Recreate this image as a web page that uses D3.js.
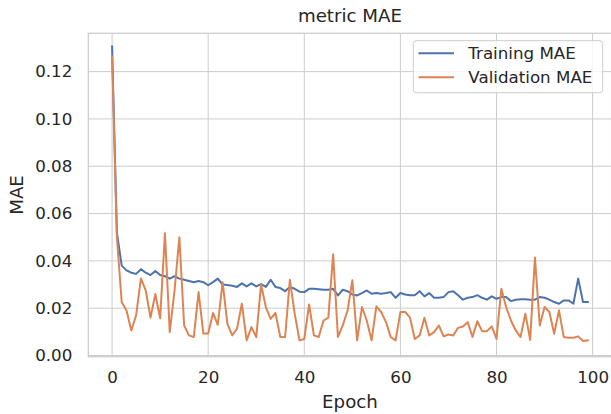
<!DOCTYPE html>
<html><head><meta charset="utf-8">
<script src="https://cdn.jsdelivr.net/npm/d3@7"></script>
<style>html,body{margin:0;padding:0;background:#fff;}svg{display:block;}</style>
</head><body>
<svg id="c" width="611" height="414"></svg>
<script>
const trainMAE = [0.1306,0.052,0.038,0.036,0.035,0.0345,0.0365,0.035,0.034,0.0357,
0.034,0.0335,0.0325,0.0335,0.0325,0.032,0.0315,0.031,0.0315,0.031,
0.0297,0.031,0.0325,0.030,0.0298,0.0295,0.029,0.0305,0.0292,0.0305,
0.0292,0.0302,0.029,0.032,0.029,0.0285,0.0272,0.029,0.0282,0.027,
0.0268,0.0282,0.0282,0.028,0.0278,0.0278,0.0282,0.0254,0.0278,0.0272,
0.0258,0.0254,0.0264,0.0275,0.0261,0.0264,0.0261,0.0264,0.0268,0.0244,
0.0264,0.0258,0.0255,0.0255,0.0272,0.025,0.0264,0.0244,0.0244,0.0247,
0.0268,0.0272,0.0255,0.0236,0.0244,0.0247,0.0255,0.0244,0.0236,0.025,
0.024,0.0247,0.0247,0.023,0.0236,0.0238,0.0238,0.0236,0.0236,0.0247,
0.0244,0.0236,0.0226,0.0219,0.0233,0.0233,0.0219,0.0325,0.0226,0.0226];
const valMAE = [0.1264,0.050,0.0226,0.019,0.0106,0.017,0.0326,0.0275,0.016,0.026,
0.0157,0.0517,0.0099,0.0275,0.050,0.0127,0.0085,0.0078,0.0268,0.0093,
0.0093,0.018,0.013,0.031,0.0134,0.0085,0.0113,0.0219,0.0064,0.012,
0.0078,0.030,0.0205,0.0155,0.018,0.0078,0.0078,0.032,0.0177,0.0064,
0.007,0.0216,0.0085,0.0078,0.0148,0.016,0.0428,0.0078,0.0127,0.019,
0.0318,0.0064,0.0205,0.0148,0.0064,0.0208,0.0184,0.0141,0.0078,0.0064,
0.0184,0.0184,0.016,0.007,0.0085,0.016,0.0085,0.0099,0.0127,0.0081,
0.0089,0.0085,0.0117,0.0123,0.0141,0.0078,0.0145,0.0103,0.0103,0.0123,
0.007,0.0282,0.0205,0.0148,0.0106,0.0078,0.0177,0.0066,0.0414,0.0127,
0.0205,0.0184,0.0092,0.0191,0.0078,0.0075,0.0075,0.0081,0.0061,0.0064];
const xTicks = [0,20,40,60,80,100];
const yTicks = [0.00,0.02,0.04,0.06,0.08,0.10,0.12];
const seriesNames = ["Training MAE","Validation MAE"];
const colors = ["#4c72b0","#dd8452"];

const svg = d3.select("#c");
const L=88.3, R=611.6, T=33.3, B=356.7;
const x = d3.scaleLinear().domain([-4.95,103.95]).range([L,R]);
const y = d3.scaleLinear().domain([-0.0005,0.1362]).range([B,T]);
const font = "DejaVu Sans, sans-serif";
const txt = "#262626";
const grid = "#cccccc";
const tickFS = 16.7, labFS = 18.2;

const g = svg.append("g");
g.selectAll(".gx").data(xTicks).enter().append("line")
 .attr("x1",d=>x(d)).attr("x2",d=>x(d)).attr("y1",T).attr("y2",B)
 .attr("stroke",grid).attr("stroke-width",1);
g.selectAll(".gy").data(yTicks).enter().append("line")
 .attr("x1",L).attr("x2",R).attr("y1",d=>y(d)).attr("y2",d=>y(d))
 .attr("stroke",grid).attr("stroke-width",1);
g.append("rect").attr("x",L).attr("y",T).attr("width",R-L).attr("height",B-T)
 .attr("fill","none").attr("stroke",grid).attr("stroke-width",1.25);

const xAxis = d3.axisBottom(x).tickValues(xTicks).tickSize(0).tickPadding(14).tickFormat(d3.format("d"));
const gx = svg.append("g").attr("transform",`translate(0,${B})`).call(xAxis);
gx.select(".domain").remove();
gx.selectAll("text").attr("font-family",font).attr("font-size",tickFS).attr("fill",txt);
const yAxis = d3.axisLeft(y).tickValues(yTicks).tickSize(0).tickPadding(16).tickFormat(d3.format(".2f"));
const gy = svg.append("g").attr("transform",`translate(${L},0)`).call(yAxis);
gy.select(".domain").remove();
gy.selectAll("text").attr("font-family",font).attr("font-size",tickFS).attr("fill",txt);

const line = d3.line().x((d,i)=>x(i)).y(d=>y(d));
svg.append("clipPath").attr("id","clp").append("rect")
 .attr("x",L).attr("y",T).attr("width",R-L).attr("height",B-T);
[trainMAE,valMAE].forEach((s,k)=>{
  svg.append("path").datum(s).attr("d",line).attr("fill","none")
   .attr("stroke",colors[k]).attr("stroke-width",2).attr("stroke-linejoin","round")
   .attr("stroke-linecap","square").attr("clip-path","url(#clp)");
});

svg.append("text").attr("x",(L+R)/2).attr("y",22).attr("text-anchor","middle")
 .attr("font-family",font).attr("font-size",labFS).attr("fill",txt).text("metric MAE");
svg.append("text").attr("x",(L+R)/2).attr("y",408).attr("text-anchor","middle")
 .attr("font-family",font).attr("font-size",labFS).attr("fill",txt).text("Epoch");
svg.append("text").attr("transform",`translate(23,${(T+B)/2}) rotate(-90)`).attr("text-anchor","middle")
 .attr("font-family",font).attr("font-size",labFS).attr("fill",txt).text("MAE");

const lg = svg.append("g");
lg.append("rect").attr("x",413.3).attr("y",40.7).attr("width",189.4).attr("height",52)
 .attr("rx",3).attr("fill","#ffffff").attr("fill-opacity",0.8).attr("stroke",grid).attr("stroke-width",1);
seriesNames.forEach((n,k)=>{
  const yy = 53.3 + k*24;
  lg.append("line").attr("x1",418.5).attr("x2",454).attr("y1",yy).attr("y2",yy)
   .attr("stroke",colors[k]).attr("stroke-width",2);
  lg.append("text").attr("x",468.3).attr("y",yy).attr("dy","0.36em")
   .attr("font-family",font).attr("font-size",tickFS).attr("fill",txt).text(n);
});
</script>
</body></html>
